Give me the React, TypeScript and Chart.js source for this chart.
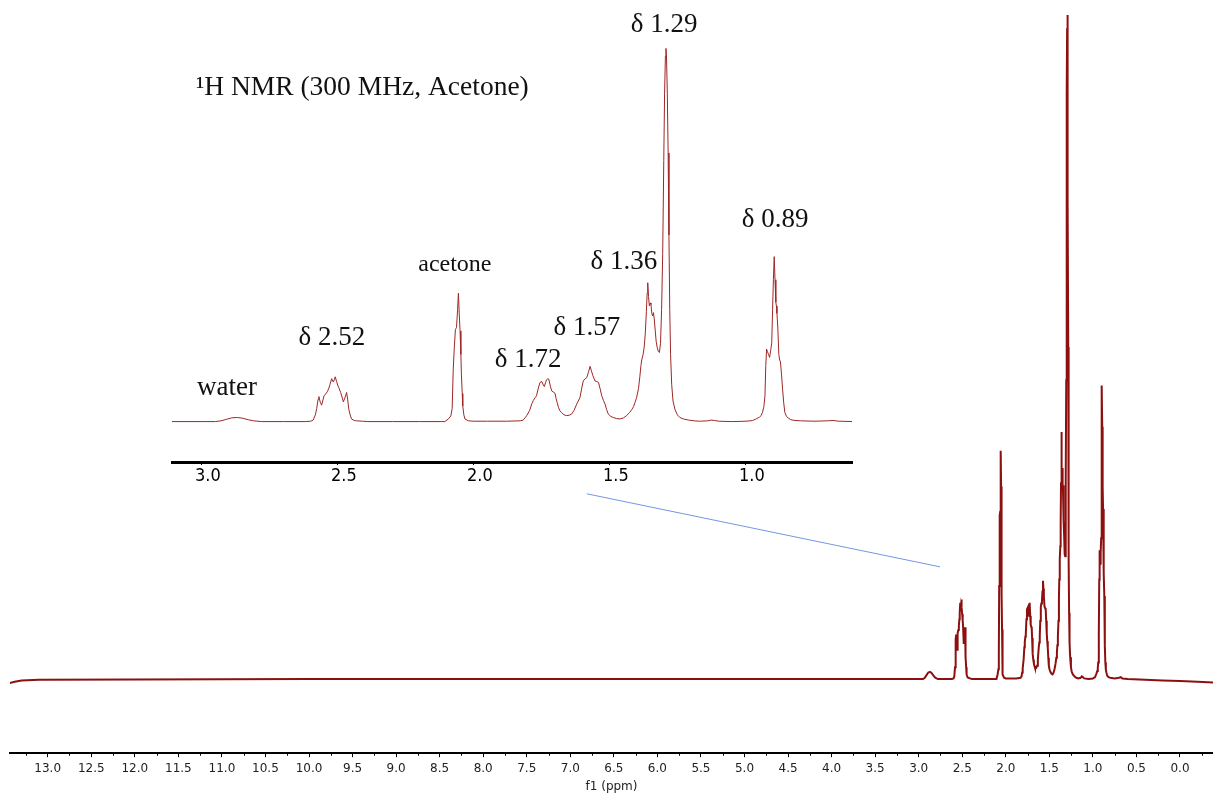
import { useEffect, useRef } from "react";
import { Chart, registerables } from "chart.js";

Chart.register(...registerables);

type Pt = [number, number];

// 1H spectrum, chemical shift (ppm) vs. intensity relative to the tallest signal
const BASELINE_LOW_FIELD: Pt[] = [
  [13.44, -0.006], [13.38, -0.004], [13.3, -0.002], [13.1, -0.001], [12.0, -0.0005],
  [10.0, 0], [8.0, 0], [6.0, 0], [4.0, 0], [3.2, 0], [3.0, 0],
];

const WATER: Pt[] = [
  [2.95, 0.0], [2.93, 0.002], [2.91, 0.006], [2.89, 0.01], [2.87, 0.011], [2.85, 0.009],
  [2.83, 0.005], [2.81, 0.002], [2.78, 0.0], [2.7, 0.0], [2.62, 0.0],
];

const MULTIPLET_252: Pt[] = [
  [2.6, 0.001], [2.591, 0.004], [2.583, 0.018], [2.578, 0.035], [2.573, 0.06], [2.57, 0.067],
  [2.565, 0.052], [2.56, 0.044], [2.555, 0.058], [2.551, 0.069], [2.545, 0.074], [2.539, 0.08],
  [2.533, 0.09], [2.529, 0.1], [2.523, 0.115], [2.517, 0.106], [2.513, 0.112], [2.51, 0.12],
  [2.505, 0.108], [2.501, 0.098], [2.495, 0.088], [2.49, 0.078], [2.485, 0.066], [2.48, 0.053],
  [2.474, 0.064], [2.468, 0.078], [2.464, 0.058], [2.46, 0.033], [2.455, 0.018], [2.45, 0.007],
  [2.44, 0.003], [2.431, 0.002], [2.41, 0.001], [2.39, 0.0], [2.3, 0.0], [2.2, 0.0], [2.12, 0.0],
];

const ACETONE: Pt[] = [
  [2.107, 0.0], [2.094, 0.007], [2.085, 0.015], [2.08, 0.035], [2.076, 0.14], [2.072, 0.2],
  [2.068, 0.247], [2.064, 0.252], [2.06, 0.3], [2.057, 0.344], [2.054, 0.29], [2.051, 0.243],
  [2.048, 0.18], [2.046, 0.127], [2.043, 0.075], [2.041, 0.042], [2.037, 0.018], [2.033, 0.007],
  [2.02, 0.002], [2.0, 0.001], [1.95, 0.001], [1.88, 0.001], [1.83, 0.002],
];

const MULTIPLET_172: Pt[] = [
  [1.819, 0.004], [1.812, 0.01], [1.806, 0.016], [1.795, 0.03], [1.787, 0.048], [1.782, 0.056],
  [1.775, 0.064], [1.77, 0.069], [1.763, 0.09], [1.757, 0.105], [1.75, 0.107], [1.745, 0.098],
  [1.741, 0.094], [1.737, 0.104], [1.733, 0.112], [1.728, 0.115], [1.725, 0.114], [1.719, 0.095],
  [1.714, 0.082], [1.708, 0.079], [1.702, 0.076], [1.698, 0.062], [1.694, 0.051], [1.689, 0.038],
  [1.684, 0.029], [1.678, 0.024], [1.672, 0.02], [1.665, 0.017], [1.659, 0.016], [1.65, 0.017],
];

const MULTIPLET_157: Pt[] = [
  [1.641, 0.02], [1.632, 0.03], [1.622, 0.047], [1.616, 0.055], [1.61, 0.065], [1.604, 0.088],
  [1.598, 0.109], [1.592, 0.114], [1.585, 0.118], [1.579, 0.132], [1.573, 0.148], [1.568, 0.136],
  [1.563, 0.124], [1.555, 0.109], [1.548, 0.107], [1.542, 0.105], [1.536, 0.088], [1.53, 0.069],
  [1.524, 0.057], [1.518, 0.047], [1.512, 0.032], [1.506, 0.02], [1.497, 0.014], [1.488, 0.011],
  [1.475, 0.008], [1.463, 0.007], [1.45, 0.01], [1.439, 0.016], [1.428, 0.024],
];

const MULTIPLET_136: Pt[] = [
  [1.42, 0.032], [1.413, 0.04], [1.408, 0.051], [1.402, 0.064], [1.395, 0.088], [1.39, 0.12],
  [1.386, 0.15], [1.383, 0.165], [1.378, 0.18], [1.374, 0.2], [1.37, 0.235], [1.366, 0.295],
  [1.363, 0.345], [1.361, 0.372], [1.358, 0.335], [1.355, 0.31], [1.352, 0.318], [1.349, 0.314],
  [1.346, 0.29], [1.343, 0.283], [1.34, 0.292], [1.337, 0.275], [1.333, 0.24], [1.33, 0.215],
  [1.326, 0.198], [1.322, 0.188], [1.318, 0.185],
];

const SINGLET_129: Pt[] = [
  [1.314, 0.21], [1.31, 0.3], [1.306, 0.45], [1.302, 0.7], [1.299, 0.88], [1.296, 0.98],
  [1.294, 1.0], [1.292, 0.98], [1.289, 0.88], [1.286, 0.72], [1.283, 0.5], [1.28, 0.3],
  [1.277, 0.18], [1.273, 0.1], [1.268, 0.055], [1.261, 0.033], [1.252, 0.018], [1.243, 0.011],
  [1.23, 0.007], [1.21, 0.004], [1.19, 0.002], [1.17, 0.001], [1.14, 0.002], [1.128, 0.004],
  [1.116, 0.003], [1.1, 0.001], [1.05, 0.0], [1.0, 0.001], [0.985, 0.002],
];

const TRIPLET_089: Pt[] = [
  [0.975, 0.003], [0.96, 0.008], [0.95, 0.012], [0.944, 0.016], [0.939, 0.025], [0.934, 0.04],
  [0.93, 0.069], [0.927, 0.15], [0.924, 0.194], [0.921, 0.188], [0.917, 0.18], [0.913, 0.172],
  [0.909, 0.19], [0.905, 0.212], [0.902, 0.3], [0.899, 0.38], [0.896, 0.442], [0.893, 0.38],
  [0.89, 0.32], [0.888, 0.31], [0.886, 0.29], [0.883, 0.256], [0.879, 0.18], [0.876, 0.165],
  [0.873, 0.16], [0.869, 0.125], [0.865, 0.085], [0.861, 0.05], [0.857, 0.025], [0.851, 0.014],
  [0.845, 0.01], [0.835, 0.005], [0.82, 0.003],
];

const BASELINE_HIGH_FIELD: Pt[] = [
  [0.8, 0.002], [0.75, 0.001], [0.7, 0.002], [0.68, 0.003], [0.66, 0.001], [0.6, 0.0],
  [0.4, -0.001], [0.2, -0.002], [0.0, -0.003], [-0.2, -0.004], [-0.38, -0.005],
];

const SPECTRUM: Pt[] = [
  ...BASELINE_LOW_FIELD, ...WATER, ...MULTIPLET_252, ...ACETONE, ...MULTIPLET_172,
  ...MULTIPLET_157, ...MULTIPLET_136, ...SINGLET_129, ...TRIPLET_089, ...BASELINE_HIGH_FIELD,
];

// guide from the expanded region down to the full spectrum
const ZOOM_POINTER: Pt[] = [[6.81, 0.279], [2.755, 0.169]];

const MAIN_TICKS = [
  13.0, 12.5, 12.0, 11.5, 11.0, 10.5, 10.0, 9.5, 9.0, 8.5, 8.0, 7.5, 7.0, 6.5,
  6.0, 5.5, 5.0, 4.5, 4.0, 3.5, 3.0, 2.5, 2.0, 1.5, 1.0, 0.5, 0.0,
];
const MAIN_MINOR_TICKS = [
  13.25, 12.75, 12.25, 11.75, 11.25, 10.75, 10.25, 9.75, 9.25, 8.75, 8.25, 7.75, 7.25,
  6.75, 6.25, 5.75, 5.25, 4.75, 4.25, 3.75, 3.25, 2.75, 2.25, 1.75, 1.25, 0.75, 0.25, -0.25,
];
const INSET_TICKS = [3.0, 2.5, 2.0, 1.5, 1.0];
const INSET_MINOR_TICKS = [2.75, 2.25, 1.75, 1.25, 0.75];

const INSET_TITLE = "\u00B9H NMR (300 MHz, Acetone)";
const PEAK_TEXTS = ["\u03B4 1.29", "\u03B4 0.89", "\u03B4 1.36", "\u03B4 1.57", "\u03B4 1.72", "\u03B4 2.52", "acetone", "water"];

const SERIF = '"Liberation Serif", "Times New Roman", serif';
const SANS = '"DejaVu Sans", Verdana, sans-serif';

// annotation anchors in inset data coordinates
const INSET_ANNOTATIONS = [
  { text: INSET_TITLE, ppm: 3.022, level: 0.894, size: 27.5, align: "left" as CanvasTextAlign },
  { text: PEAK_TEXTS[0], ppm: 1.301, level: 1.063, size: 27, align: "center" as CanvasTextAlign },
  { text: PEAK_TEXTS[1], ppm: 0.893, level: 0.541, size: 27, align: "center" as CanvasTextAlign },
  { text: PEAK_TEXTS[2], ppm: 1.449, level: 0.429, size: 27, align: "center" as CanvasTextAlign },
  { text: PEAK_TEXTS[3], ppm: 1.585, level: 0.25, size: 27, align: "center" as CanvasTextAlign },
  { text: PEAK_TEXTS[4], ppm: 1.801, level: 0.164, size: 27, align: "center" as CanvasTextAlign },
  { text: PEAK_TEXTS[5], ppm: 2.522, level: 0.223, size: 27, align: "center" as CanvasTextAlign },
  { text: PEAK_TEXTS[6], ppm: 2.07, level: 0.421, size: 24, align: "center" as CanvasTextAlign },
  { text: PEAK_TEXTS[7], ppm: 2.908, level: 0.09, size: 27, align: "center" as CanvasTextAlign },
];

const toXY = (pts: Pt[]) => pts.map(([x, y]) => ({ x, y }));

function minorTickPlugin(id: string, values: number[], length: number) {
  return {
    id,
    afterDraw(chart: any) {
      const scale = chart.scales.x;
      const ctx = chart.ctx as CanvasRenderingContext2D;
      ctx.save();
      ctx.strokeStyle = "#000";
      ctx.lineWidth = 1;
      ctx.beginPath();
      for (const v of values) {
        const px = Math.round(scale.getPixelForValue(v)) + 0.5;
        ctx.moveTo(px, scale.top);
        ctx.lineTo(px, scale.top + length);
      }
      ctx.stroke();
      ctx.restore();
    },
  };
}

const insetLabelPlugin = {
  id: "insetLabels",
  afterDraw(chart: any) {
    const xs = chart.scales.x;
    const ys = chart.scales.y;
    const ctx = chart.ctx as CanvasRenderingContext2D;
    ctx.save();
    ctx.fillStyle = "#111";
    ctx.textBaseline = "middle";
    for (const a of INSET_ANNOTATIONS) {
      ctx.font = `${a.size}px ${SERIF}`;
      ctx.textAlign = a.align;
      ctx.fillText(a.text, xs.getPixelForValue(a.ppm), ys.getPixelForValue(a.level));
    }
    ctx.restore();
  },
};

const W = 1213;
const H = 794;
const INSET_H = 500;

export default function App() {
  const mainRef = useRef<HTMLCanvasElement>(null);
  const insetRef = useRef<HTMLCanvasElement>(null);

  useEffect(() => {
    const main = new Chart(mainRef.current!, {
      type: "line",
      data: {
        datasets: [
          {
            data: toXY(SPECTRUM),
            borderColor: "#8c1010",
            borderWidth: 2,
            pointRadius: 0,
            tension: 0,
            fill: false,
          },
          {
            data: toXY(ZOOM_POINTER),
            borderColor: "#7397e0",
            borderWidth: 1,
            pointRadius: 0,
            tension: 0,
            fill: false,
          },
        ],
      },
      options: {
        animation: false,
        responsive: false,
        events: [],
        layout: { padding: { left: 10, right: 0, top: 0, bottom: 0 } },
        plugins: { legend: { display: false }, tooltip: { enabled: false } },
        scales: {
          x: {
            type: "linear",
            reverse: true,
            min: -0.379,
            max: 13.433,
            afterBuildTicks: (scale: any) => {
              scale.ticks = MAIN_TICKS.map((value) => ({ value }));
            },
            grid: {
              display: true,
              drawOnChartArea: false,
              drawTicks: true,
              tickLength: 4,
              tickColor: "#000",
              tickWidth: 1,
            },
            border: { display: true, color: "#000", width: 2 },
            ticks: {
              autoSkip: false,
              maxRotation: 0,
              minRotation: 0,
              padding: 4,
              color: "#222",
              font: { family: SANS, size: 12 },
              callback: (v: any) => Number(v).toFixed(1),
            },
            title: {
              display: true,
              text: "f1 (ppm)",
              color: "#222",
              font: { family: SANS, size: 12 },
              padding: { top: 0, bottom: 0 },
            },
          },
          y: { display: false, min: -0.1116, max: 1.0226 },
        },
      },
      plugins: [minorTickPlugin("mainMinor", MAIN_MINOR_TICKS, 2.5)],
    } as any);

    const inset = new Chart(insetRef.current!, {
      type: "line",
      data: {
        datasets: [
          {
            data: toXY(SPECTRUM),
            borderColor: "#9e2626",
            borderWidth: 1,
            pointRadius: 0,
            tension: 0,
            fill: false,
          },
        ],
      },
      options: {
        animation: false,
        responsive: false,
        events: [],
        layout: { padding: { left: 172, right: W - 852, top: 0, bottom: 11.4 } },
        plugins: { legend: { display: false }, tooltip: { enabled: false } },
        scales: {
          x: {
            type: "linear",
            reverse: true,
            min: 0.61,
            max: 3.11,
            afterBuildTicks: (scale: any) => {
              scale.ticks = INSET_TICKS.map((value) => ({ value }));
            },
            grid: {
              display: true,
              drawOnChartArea: false,
              drawTicks: true,
              tickLength: 3,
              tickColor: "#000",
              tickWidth: 1,
            },
            border: { display: true, color: "#000", width: 3 },
            ticks: {
              autoSkip: false,
              maxRotation: 0,
              minRotation: 0,
              padding: 1,
              labelOffset: 6,
              color: "#000",
              font: { family: '"DejaVu Sans Condensed", "DejaVu Sans", sans-serif', size: 18 },
              callback: (v: any) => Number(v).toFixed(1),
            },
          },
          y: { display: false, min: -0.1083, max: 1.1297 },
        },
      },
      plugins: [minorTickPlugin("insetMinor", INSET_MINOR_TICKS, 2), insetLabelPlugin],
    } as any);

    return () => {
      main.destroy();
      inset.destroy();
    };
  }, []);

  return (
    <div style={{ position: "fixed", left: 0, top: 0, width: W, height: H, background: "#fff" }}>
      <canvas ref={mainRef} width={W} height={H} style={{ position: "absolute", left: 0, top: 0 }} />
      <canvas ref={insetRef} width={W} height={INSET_H} style={{ position: "absolute", left: 0, top: 0 }} />
    </div>
  );
}
